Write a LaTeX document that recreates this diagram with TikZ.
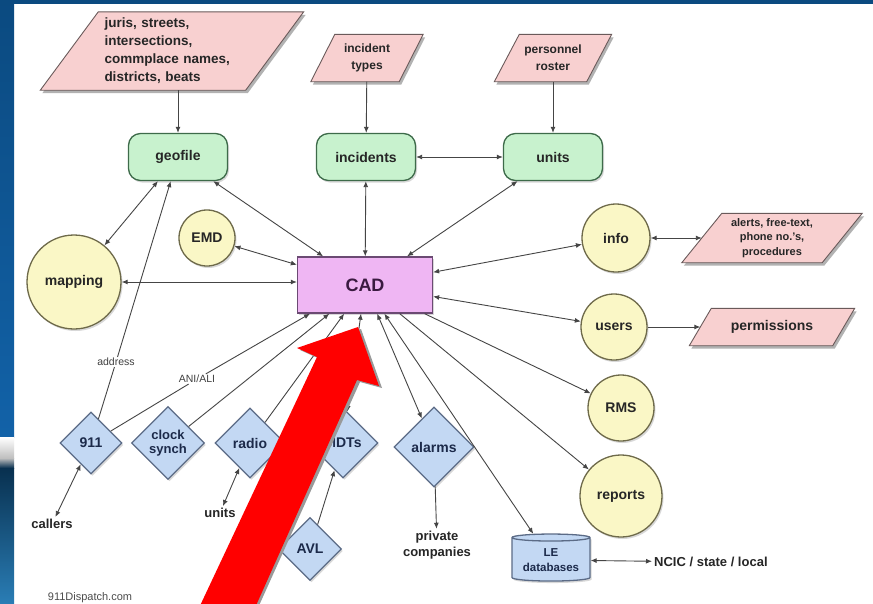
\documentclass[tikz,border=0pt]{standalone}
\usepackage{fontspec}
\setmainfont{Liberation Sans}
\usetikzlibrary{arrows.meta,shapes.geometric,shadows}
\definecolor{topblue}{HTML}{0B4A80}
\definecolor{sideblue}{HTML}{1262A8}
\definecolor{navy}{HTML}{08304F}
\definecolor{navylight}{HTML}{2A7DB5}
\definecolor{pinkfill}{HTML}{F8D0D0}
\definecolor{pinkline}{HTML}{6A5A5A}
\definecolor{greenfill}{HTML}{C8F2CE}
\definecolor{greenline}{HTML}{3E6B4A}
\definecolor{yellowfill}{HTML}{FAF7C6}
\definecolor{yellowline}{HTML}{6E6A4A}
\definecolor{bluefill}{HTML}{C3D8F3}
\definecolor{blueline}{HTML}{5B6B86}
\definecolor{bluetext}{HTML}{1C2A4A}
\definecolor{cadfill}{HTML}{EFB6F3}
\definecolor{cadline}{HTML}{6B4A73}
\definecolor{cadtext}{HTML}{3A1A40}
\definecolor{edgecol}{HTML}{454545}
\definecolor{arrowred}{HTML}{FF0000}
\pgfdeclarelayer{bgframe}
\pgfdeclarelayer{shapes}
\pgfsetlayers{bgframe,shapes,main}
\newcommand{\slantshape}[2]{%
\begin{pgfonlayer}{shapes}
\fill[black!30] ([xshift=#2pt+2pt,yshift=-3pt]#1.north west) -- ([xshift=#2pt+2pt,yshift=-3pt]#1.north east) -- ([xshift=-#2pt+2pt,yshift=-3pt]#1.south east) -- ([xshift=-#2pt+2pt,yshift=-3pt]#1.south west) -- cycle;
\filldraw[fill=pinkfill, draw=pinkline, line width=0.9pt] ([xshift=#2pt]#1.north west) -- ([xshift=#2pt]#1.north east) -- ([xshift=-#2pt]#1.south east) -- ([xshift=-#2pt]#1.south west) -- cycle;
\end{pgfonlayer}}
\tikzset{
  base/.style={inner sep=1pt, align=center, text=black!85, font=\bfseries\fontsize{14}{16}\selectfont},
  shad/.style={drop shadow={shadow xshift=1.5pt, shadow yshift=-2pt, fill=black!30}},
  rbox/.style={base, shad, rounded corners=12pt, draw=greenline, line width=1.3pt, fill=greenfill, minimum width=99pt, minimum height=47pt},
  circ/.style={base, shad, circle, draw=yellowline, line width=1.3pt, fill=yellowfill, inner sep=0pt},
  dia/.style={base, shad, diamond, aspect=1, draw=blueline, line width=1.3pt, fill=bluefill, inner sep=0pt, text=bluetext},
  para/.style={base, draw=none, inner sep=0pt},
  plain/.style={inner sep=2pt, align=center, text=black!85, font=\bfseries\fontsize{13}{15}\selectfont},
  small/.style={inner sep=1pt, text=black!75, font=\fontsize{10.5}{12}\selectfont},
  edge/.style={draw=edgecol, line width=0.9pt},
  both/.style={edge, {Latex[length=6pt,width=5pt]}-{Latex[length=6pt,width=5pt]}},
  one/.style={edge, -{Latex[length=6pt,width=5pt]}}
}
\begin{document}
\begin{tikzpicture}[x=1pt,y=-1pt]
\begin{pgfonlayer}{bgframe}
\fill[white] (0,0) rectangle (873,603);
\fill[topblue] (0,0) rectangle (873,4);
\shade[top color=topblue, bottom color=sideblue] (0,0) rectangle (14,437);
\shade[top color=white, bottom color=black!25] (0,437) rectangle (14,458);
\shade[top color=black!25, bottom color=navy] (0,458) rectangle (14,468);
\shade[top color=navy, bottom color=navylight] (0,468) rectangle (14,603);
\end{pgfonlayer}
\useasboundingbox (0,0) rectangle (873,603);

% parallelograms
\node[para, minimum width=205pt, minimum height=78pt, text width=135pt, align=left, font=\bfseries\fontsize{13.5}{18}\selectfont] (juris) at (172,51) {juris, streets,\\intersections,\\commplace names,\\districts, beats};
\slantshape{juris}{29}
\node[para, minimum width=88pt, minimum height=47pt, font=\bfseries\fontsize{12}{17}\selectfont] (itypes) at (367,58) {incident\\types};
\slantshape{itypes}{12}
\node[para, minimum width=92pt, minimum height=47pt, font=\bfseries\fontsize{12}{17}\selectfont] (roster) at (553,58) {personnel\\roster};
\slantshape{roster}{12.5}
\node[para, minimum width=140pt, minimum height=49pt, font=\bfseries\fontsize{11}{14.5}\selectfont] (alerts) at (772,238) {alerts, free-text,\\phone no.'s,\\procedures};
\slantshape{alerts}{20}
\node[para, minimum width=143pt, minimum height=37pt] (perm) at (772,327) {permissions};
\slantshape{perm}{11}

% green boxes
\node[rbox] (geofile) at (178,157) {geofile};
\node[rbox] (incidents) at (366,157) {incidents};
\node[rbox] (units) at (553,157) {units};

% CAD
\node[base, shad, draw=cadline, fill=cadfill, line width=1.3pt, minimum width=135pt, minimum height=56pt, text=cadtext, font=\bfseries\fontsize{18}{20}\selectfont] (CAD) at (365,285) {CAD};

% circles
\node[circ, minimum size=56pt] (EMD) at (207,238) {EMD};
\node[circ, minimum size=94pt] (mapping) at (74,282) {mapping};
\node[circ, minimum size=68pt] (info) at (616,238) {info};
\node[circ, minimum size=66pt] (users) at (614,327) {users};
\node[circ, minimum size=66pt] (RMS) at (621,408) {RMS};
\node[circ, minimum size=82pt] (reports) at (621,496) {reports};

% diamonds
\node[dia, minimum size=62pt] (n911) at (91,443) {911};
\node[dia, minimum size=73pt, font=\bfseries\fontsize{13}{14}\selectfont] (clock) at (168,443) {clock\\synch};
\node[dia, minimum size=70pt] (radio) at (250,443) {radio};
\node[dia, minimum size=70pt] (MDTs) at (343,443) {MDTs};
\node[dia, minimum size=80pt] (alarms) at (434,447) {alarms};
\node[dia, minimum size=63pt] (AVL) at (310,549) {AVL};

% LE databases
\node[base, shad, cylinder, shape border rotate=90, aspect=0.12, draw=blueline, fill=bluefill, line width=1.3pt, minimum width=78pt, minimum height=47pt, text=bluetext, font=\bfseries\fontsize{11.5}{15}\selectfont] (LE) at (551,560) {LE\\databases};

% plain labels
\node[plain] (callers) at (52,524) {callers};
\node[plain] (units2) at (220,513) {units};
\node[plain, font=\bfseries\fontsize{13}{16}\selectfont] (private) at (437,545) {private\\companies};
\node[plain, anchor=west] (ncic) at (652,562) {NCIC / state / local};
\node[small] (addr) at (116,362) {address};
\node[small] (ani) at (197,379) {ANI/ALI};
\node[inner sep=0pt, text=black!70, font=\fontsize{11}{12}\selectfont] (credit) at (90,598) {911Dispatch.com};

% connectors
\draw[one] (geofile |- juris.south) -- (geofile);
\draw[one] (itypes) -- (incidents);
\draw[one] (roster) -- (units);
\draw[both] (incidents) -- (units);
\draw[both] (geofile) -- (mapping);
\draw[both] (geofile) -- (CAD);
\draw[both] (incidents) -- (CAD);
\draw[both] (units) -- (CAD);
\draw[both] (EMD) -- (CAD);
\draw[both] (mapping) -- (CAD.west |- mapping);
\draw[both] (info) -- (CAD);
\draw[both] (info) -- (alerts);
\draw[both] (users) -- (CAD);
\draw[one] (users) -- (perm);
\draw[one] (CAD) -- (RMS);
\draw[one] (CAD) -- (reports);
\draw[both] (CAD) -- (LE);
\draw[both] (LE) -- (ncic);
\draw[both] (CAD) -- (alarms);
\draw[one] (alarms) -- (private);
\draw[both] (n911) -- (callers);
\draw[edge] (n911) -- (addr);
\draw[one] (addr) -- (geofile);
\draw[edge] (n911) -- (ani);
\draw[one] (ani) -- ([xshift=-55pt]CAD.south);
\draw[one] (clock) -- (CAD);
\draw[one] (radio) -- (CAD);
\draw[both] (radio) -- (units2);
\draw[both] (MDTs) -- (CAD);
\draw[one] (AVL) -- (MDTs);

% big red arrow
\fill[black!40] (201,610) -- (320,359) -- (300,350) -- (361,329) -- (382,388) -- (360,382) -- (257,610) -- cycle;
\fill[arrowred] (198,610) -- (317,357) -- (297,348) -- (358,327) -- (379,386) -- (357,380) -- (254,610) -- cycle;
\end{tikzpicture}
\end{document}
